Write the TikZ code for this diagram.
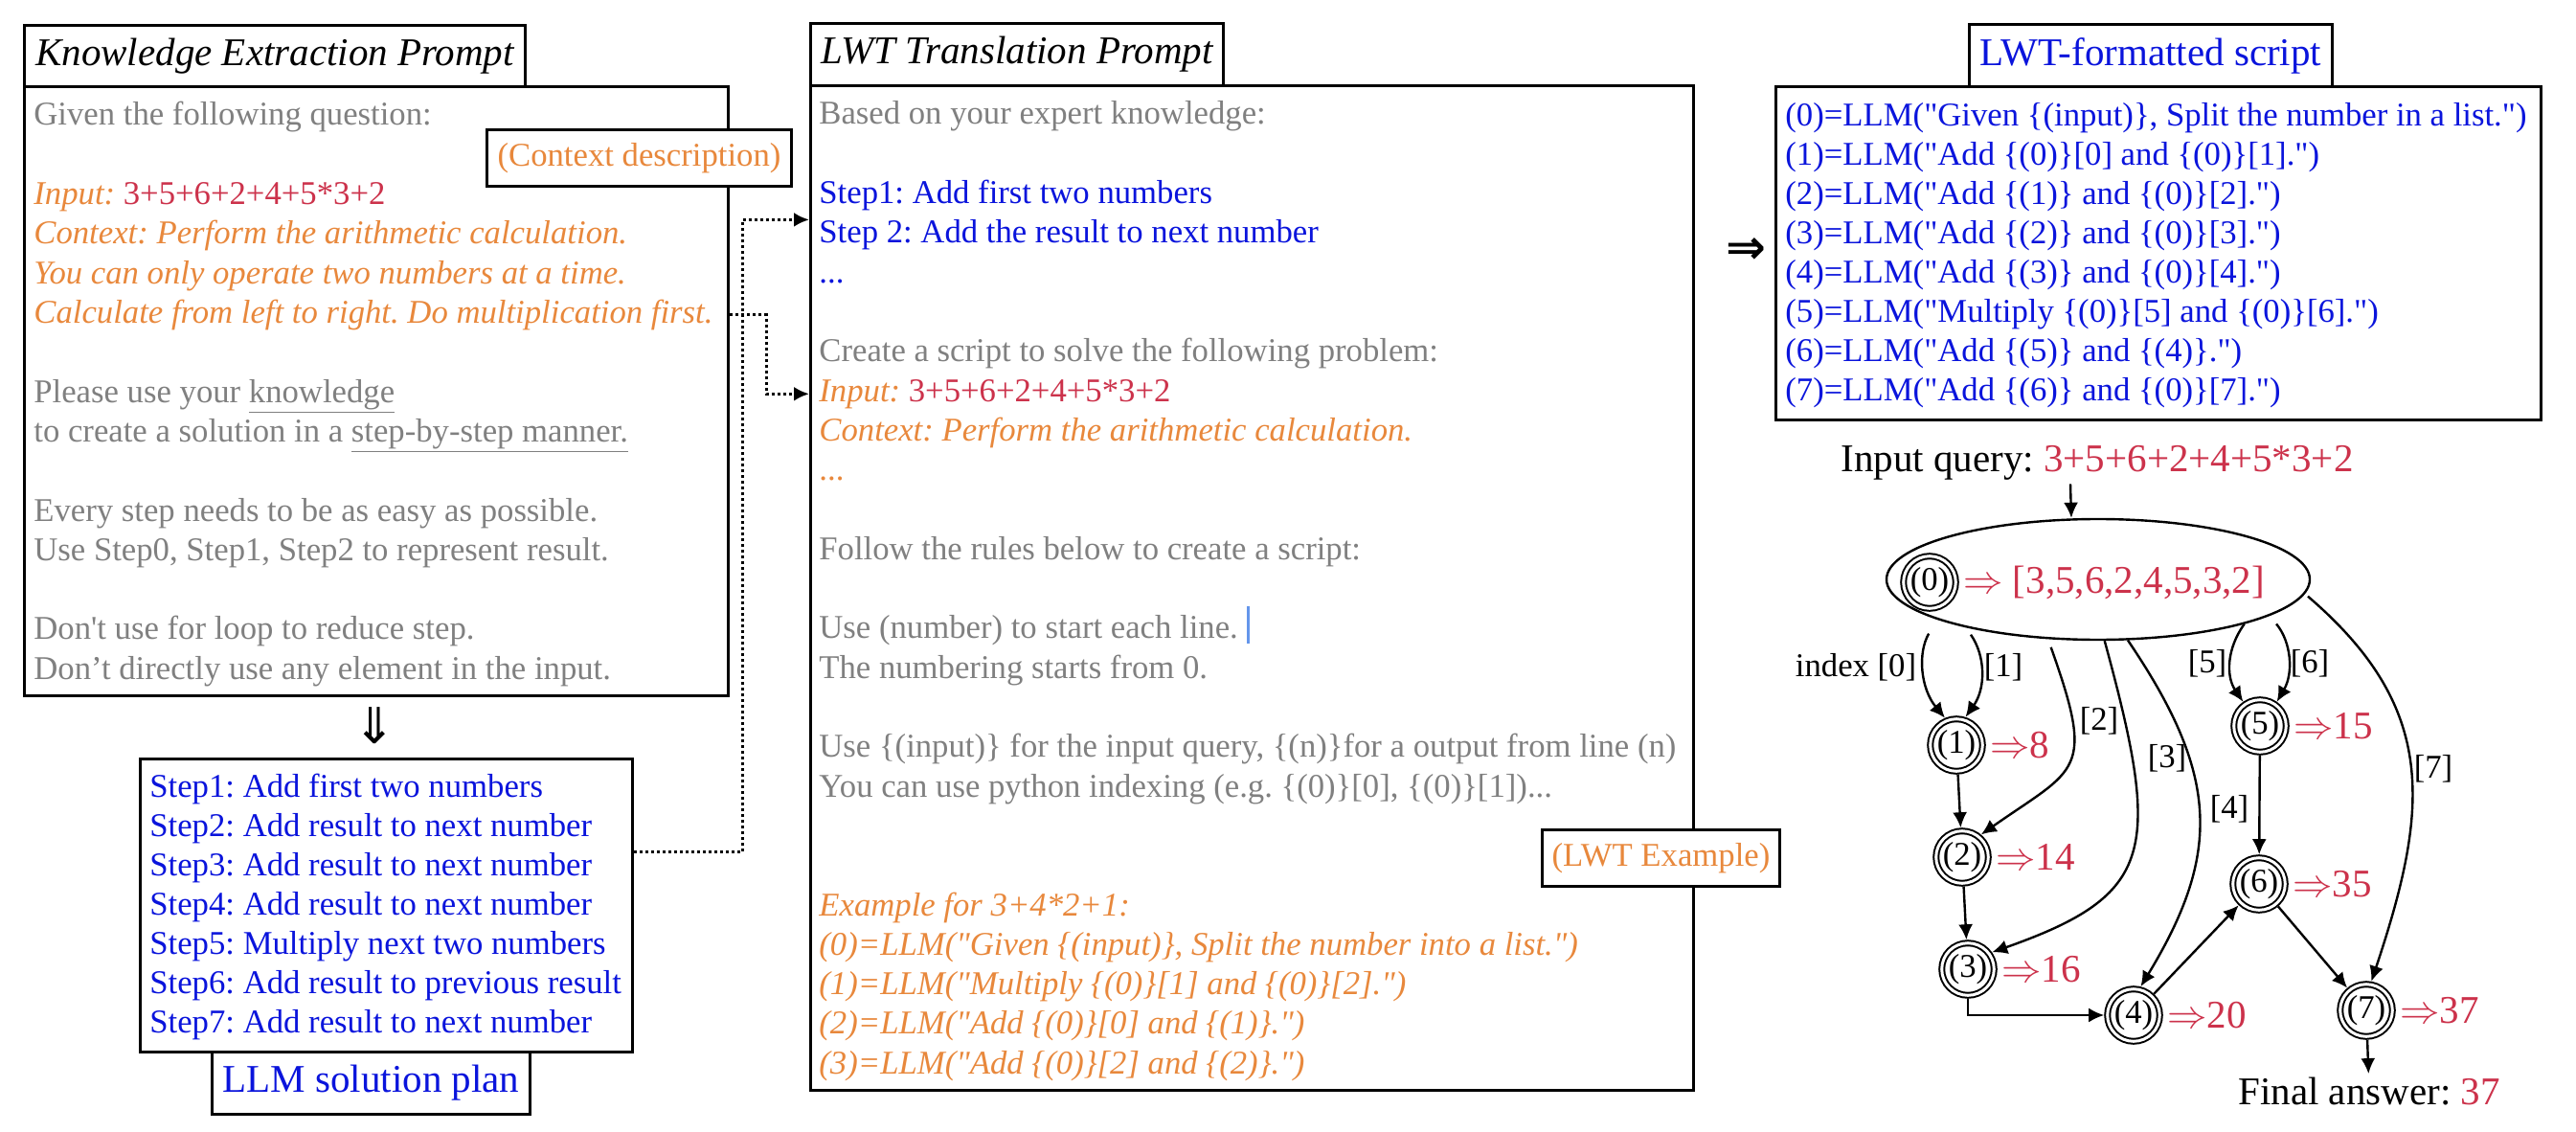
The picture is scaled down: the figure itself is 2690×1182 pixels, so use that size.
\documentclass[tikz,border=0pt]{standalone}
\usepackage{fontspec}
\setmainfont{Liberation Serif}
\newfontfamily\arrowfont{DejaVu Sans}
\usepackage{tikz}
\usetikzlibrary{shapes.geometric,arrows.meta}

\definecolor{promptgray}{RGB}{128,128,128}
\definecolor{ctxorange}{RGB}{232,136,60}
\definecolor{numred}{RGB}{204,50,75}
\definecolor{stepblue}{RGB}{10,20,220}
\definecolor{cursorblue}{RGB}{100,150,235}

\newcommand{\bodyfont}{\fontsize{17.35pt}{20.6pt}\selectfont}
\newcommand{\headfont}{\fontsize{20.5pt}{24pt}\selectfont}
\newcommand{\query}{\textcolor{numred}{3+5+6+2+4+5*3+2}}
\newcommand{\dq}{\textquotedbl}
\frenchspacing

\begin{document}
\begin{tikzpicture}[x=0.5pt,y=-0.5pt,>={Latex[length=8pt,width=7.5pt]},
  box/.style={rectangle,draw=black,line width=1.5pt,anchor=north west,inner sep=0pt},
  tag/.style={rectangle,draw=black,line width=1.5pt,fill=white,inner sep=0pt,anchor=north west},
  txtline/.style={anchor=base west,inner sep=0pt,font=\bodyfont},
  dotlink/.style={->,line width=1.5pt,dash pattern=on 1.5pt off 1.5pt},
  gnode/.style={circle,draw,double,line width=1pt,double distance=1.5pt,inner sep=0.6pt,outer sep=1.75pt,font=\bodyfont},
  res/.style={anchor=west,inner sep=2pt,text=numred,font=\headfont},
  flow/.style={->,line width=1.2pt},
  idx/.style={font=\bodyfont,inner sep=2pt}]
\useasboundingbox (0,0) rectangle (2690,1182);

% knowledge extraction prompt
\node[box,minimum width=261.5pt,minimum height=32pt,font=\headfont\itshape] (kTitle) at (24,25) {Knowledge Extraction Prompt};
\node[box,minimum width=367.5pt,minimum height=318pt] (kBox) at (24,89) {};
\node[tag,minimum width=159pt,minimum height=29.5pt,font=\bodyfont,text=ctxorange] (ctx) at (507,134) {(Context description)};
\foreach \i/\t in {
  0/{\color{promptgray}Given the following question:},
  2/{\textcolor{ctxorange}{\itshape Input:} \query},
  3/{\color{ctxorange}\itshape Context: Perform the arithmetic calculation.},
  4/{\color{ctxorange}\itshape You can only operate two numbers at a time.},
  5/{\color{ctxorange}\itshape Calculate from left to right. Do multiplication first.},
  7/{\color{promptgray}Please use your \underline{knowledge}},
  8/{\color{promptgray}to create a solution in a \underline{step-by-step manner.}},
  10/{\color{promptgray}Every step needs to be as easy as possible.},
  11/{\color{promptgray}Use Step0, Step1, Step2 to represent result.},
  13/{\color{promptgray}Don\textquotesingle t use for loop to reduce step.},
  14/{\color{promptgray}Don’t directly use any element in the input.}}
  \node[txtline] (k\i) at (35,{131+41.3*\i}) {\t};

\node[font=\arrowfont\fontsize{26pt}{30pt}\selectfont] (down) at (391,758) {⇓};

% solution plan
\node[box,minimum width=257pt,minimum height=153pt] (stepBox) at (145,791) {};
\foreach \i/\t in {
  1/{Step1: Add first two numbers},
  2/{Step2: Add result to next number},
  3/{Step3: Add result to next number},
  4/{Step4: Add result to next number},
  5/{Step5: Multiply next two numbers},
  6/{Step6: Add result to previous result},
  7/{Step7: Add result to next number}}
  \node[txtline,text=stepblue] (s\i) at (156,{832+41*(\i-1)}) {\t};
\node[tag,minimum width=166pt,minimum height=32.5pt,font=\headfont,text=stepblue] (plan) at (220,1097) {LLM solution plan};

% LWT translation prompt
\node[box,minimum width=215.5pt,minimum height=32.5pt,font=\headfont\itshape] (lTitle) at (845,23) {LWT Translation Prompt};
\node[box,minimum width=461pt,minimum height=524.5pt] (lBox) at (845,88) {};
\node[tag,minimum width=124pt,minimum height=29.5pt,font=\bodyfont,text=ctxorange] (ex) at (1609,865) {(LWT Example)};
\foreach \i/\t in {
  0/{\color{promptgray}Based on your expert knowledge:},
  2/{\color{stepblue}Step1: Add first two numbers},
  3/{\color{stepblue}Step 2: Add the result to next number},
  4/{\color{stepblue}...},
  6/{\color{promptgray}Create a script to solve the following problem:},
  7/{\textcolor{ctxorange}{\itshape Input:} \query},
  8/{\color{ctxorange}\itshape Context: Perform the arithmetic calculation.},
  9/{\color{ctxorange}...},
  11/{\color{promptgray}Follow the rules below to create a script:},
  13/{\color{promptgray}Use (number) to start each line.},
  14/{\color{promptgray}The numbering starts from 0.},
  16/{\color{promptgray}Use \{(input)\} for the input query, \{(n)\}for a output from line (n)},
  17/{\color{promptgray}You can use python indexing (e.g. \{(0)\}[0], \{(0)\}[1])...},
  20/{\color{ctxorange}\itshape Example for 3+4*2+1:},
  21/{\color{ctxorange}\itshape (0)=LLM(\dq Given \{(input)\}, Split the number into a list.\dq)},
  22/{\color{ctxorange}\itshape (1)=LLM(\dq Multiply \{(0)\}[1] and \{(0)\}[2].\dq)},
  23/{\color{ctxorange}\itshape (2)=LLM(\dq Add \{(0)\}[0] and \{(1)\}.\dq)},
  24/{\color{ctxorange}\itshape (3)=LLM(\dq Add \{(0)\}[2] and \{(2)\}.\dq)}}
  \node[txtline] (l\i) at (855,{130+41.3*\i}) {\t};
\draw[cursorblue,line width=1.5pt] (1303,633) -- (1303,672);

% dotted links into the translation prompt
\draw[dotlink] (stepBox.east |- s3.north) -- ++(113,0) |- (lBox.west |- l3.north);
\draw[dotlink] (kBox.east |- k5.east) -- ++(38,0) |- (lBox.west |- l7.east);

\node[font=\arrowfont\bfseries\fontsize{25pt}{30pt}\selectfont] (toScript) at (1823,262) {⇒};

% LWT-formatted script
\node[box,minimum width=189.5pt,minimum height=32.5pt,font=\headfont,text=stepblue] (sTitle) at (2055,24) {LWT-formatted script};
\node[box,minimum width=399.5pt,minimum height=174pt] (sBox) at (1853,89) {};
\foreach \i/\t in {
  0/{(0)=LLM(\dq Given \{(input)\}, Split the number in a list.\dq)},
  1/{(1)=LLM(\dq Add \{(0)\}[0] and \{(0)\}[1].\dq)},
  2/{(2)=LLM(\dq Add \{(1)\} and \{(0)\}[2].\dq)},
  3/{(3)=LLM(\dq Add \{(2)\} and \{(0)\}[3].\dq)},
  4/{(4)=LLM(\dq Add \{(3)\} and \{(0)\}[4].\dq)},
  5/{(5)=LLM(\dq Multiply \{(0)\}[5] and \{(0)\}[6].\dq)},
  6/{(6)=LLM(\dq Add \{(5)\} and \{(4)\}.\dq)},
  7/{(7)=LLM(\dq Add \{(6)\} and \{(0)\}[7].\dq)}}
  \node[txtline,text=stepblue] (c\i) at (1864,{132+41*\i}) {\t};

% graph of the script
\node[font=\headfont,inner sep=2pt] (query) at (2190,483) {Input query: \query};
\node[ellipse,draw,line width=1.2pt,minimum width=221pt,minimum height=63pt,inner sep=0pt] (e0) at (2191,605) {};
\node[gnode] (n0) at (2015,608) {(0)};
\node[res] (r0) at (n0.east) {$\Rightarrow$ [3,5,6,2,4,5,3,2]};
\foreach \n/\x/\y/\v in {1/2043/778/8, 2/2049/895/14, 3/2055/1012/16, 4/2228/1060/20,
    5/2360/758/15, 6/2359/923/35, 7/2471/1055/37} {
  \node[gnode] (n\n) at (\x,\y) {(\n)};
  \node[res] (r\n) at (n\n.east) {$\Rightarrow$\v};
}
\node[font=\headfont,inner sep=2pt] (final) at (2474,1140) {Final answer: \textcolor{numred}{37}};

\draw[flow] ([xshift=-14pt]query.south) -- ([xshift=-14pt]e0.north);
\draw[flow,shorten <=8.5pt] (e0.194) to[bend right=35] (n1.113);
\draw[flow,shorten <=4.5pt] (e0.200) to[bend left=35] (n1.72);
\draw[flow,shorten <=4.5pt] (e0.230) .. controls +(50,140) and +(100,-70) .. (n2.50);
\draw[flow] (e0.276) .. controls +(60,220) and +(170,-60) .. (n3.35);
\draw[flow] (e0.296) .. controls +(95,140) and +(85,-140) .. (n4.76);
\draw[flow] (e0.343) to[bend right=35] (n5.125);
\draw[flow,shorten <=5.5pt] (e0.348) to[bend left=35] (n5.55);
\draw[flow,shorten <=2pt] (e0.-4) .. controls +(140,120) and +(60,-180) .. (n7.80);
\draw[flow] (n1) -- (n2);
\draw[flow] (n2) -- (n3);
\draw[flow] (n3) |- (n4);
\draw[flow] (n4) -- (n6);
\draw[flow] (n5) -- (n6);
\draw[flow] (n6) -- (n7);
\draw[flow] (n7) -- (final);

% index labels
\node[idx] (i0) at (1938,697) {index [0]};
\node[idx] (i1) at (2092,697) {[1]};
\node[idx] (i2) at (2192,753) {[2]};
\node[idx] (i3) at (2263,792) {[3]};
\node[idx] (i4) at (2328,845) {[4]};
\node[idx] (i5) at (2305,693) {[5]};
\node[idx] (i6) at (2412,693) {[6]};
\node[idx] (i7) at (2541,803) {[7]};
\end{tikzpicture}
\end{document}
